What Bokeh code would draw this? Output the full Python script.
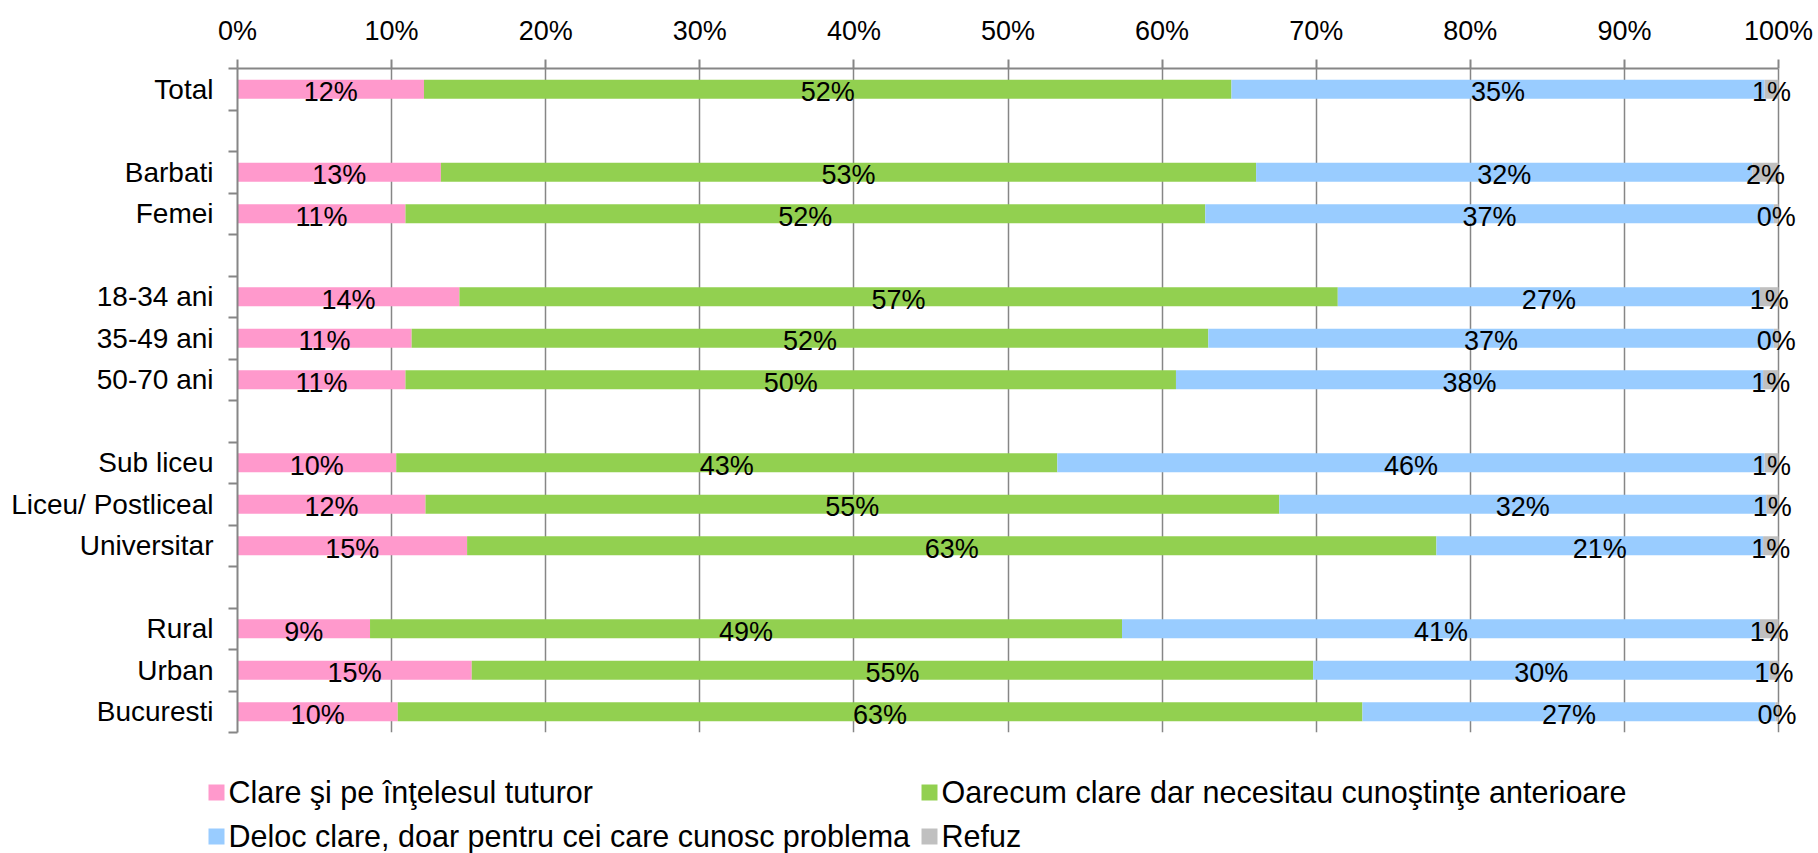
from bokeh.plotting import figure
from bokeh.models import Range1d, FixedTicker, ColumnDataSource, LabelSet, PrintfTickFormatter
from bokeh.layouts import column
from bokeh.embed import file_html
from bokeh.resources import INLINE
from bokeh.core.properties import value

# ---------------- data ----------------
categories = ["Total", "", "Barbati", "Femei", "", "18-34 ani", "35-49 ani", "50-70 ani", "",
              "Sub liceu", "Liceu/ Postliceal", "Universitar", "", "Rural", "Urban", "Bucuresti"]
series = ["Clare şi pe înţelesul tuturor",
          "Oarecum clare dar necesitau cunoştinţe anterioare",
          "Deloc clare, doar pentru cei care cunosc problema",
          "Refuz"]
clare = [12.1, 13.2, 10.9, 14.4, 11.3, 10.9, 10.3, 12.2, 14.9, 8.6, 15.2, 10.4]
oarecum = [52.4, 52.9, 51.9, 57.0, 51.7, 50.0, 42.9, 55.4, 62.9, 48.8, 54.6, 62.6]
deloc = [34.6, 32.2, 36.9, 27.4, 36.7, 38.1, 45.9, 31.6, 21.2, 41.4, 29.6, 26.8]
refuz = [0.9, 1.7, 0.3, 1.2, 0.3, 1.0, 0.9, 0.8, 1.0, 1.2, 0.6, 0.2]
x_ticks = list(range(0, 101, 10))
colors = ["#FF99CC", "#92D050", "#99CCFF", "#C0C0C0"]

FONT = "Liberation Sans"
GREY = "#868686"

# ---------------- layout constants (pixels) ----------------
W = 1818
H_MAIN = 750
H_LEG = 103
FRAME_LEFT = 237
AXIS_100 = 1778          # pixel where 100% falls
FRAME_RIGHT_BORDER = 2
x_end = 100.0 * (W - FRAME_LEFT - FRAME_RIGHT_BORDER) / (AXIS_100 - FRAME_LEFT)

# ---------------- main chart ----------------
n = len(categories)
centers = [i + 0.5 for i, c in enumerate(categories) if c]
names = [c for c in categories if c]
keys = ["clare", "oarecum", "deloc", "refuz"]
src = ColumnDataSource(dict(y=centers, clare=clare, oarecum=oarecum, deloc=deloc, refuz=refuz))

p = figure(width=W, height=H_MAIN, x_range=Range1d(0, x_end), y_range=Range1d(n, 0),
           x_axis_location="above", y_axis_location="left",
           toolbar_location=None, output_backend="svg",
           min_border_left=FRAME_LEFT, min_border_right=FRAME_RIGHT_BORDER,
           min_border_top=68, min_border_bottom=18)
p.outline_line_color = None
p.background_fill_color = "white"
p.frame_align = False

p.hbar_stack(keys, y="y", height=0.46, color=colors, source=src, line_color=None)

# data labels
lx, ly, lt = [], [], []
for j in range(len(names)):
    left = 0.0
    for arr in (clare, oarecum, deloc, refuz):
        v = arr[j]
        lx.append(left + v / 2.0)
        ly.append(centers[j] + 0.07)
        lt.append(f"{round(v):.0f}%")
        left += v
lsrc = ColumnDataSource(dict(x=lx, y=ly, t=lt))
p.add_layout(LabelSet(x="x", y="y", text="t", source=lsrc, text_align="center",
                      text_baseline="middle", text_font=value(FONT),
                      text_font_size=value("27px"), text_color="black"))

# top axis
xa = p.xaxis[0]
xa.ticker = FixedTicker(ticks=x_ticks)
xa.bounds = (0, 100)
xa.formatter = PrintfTickFormatter(format="%d%%")
xa.axis_line_color = GREY
xa.axis_line_width = 2
xa.major_tick_line_color = GREY
xa.major_tick_line_width = 2
xa.major_tick_out = 9
xa.major_tick_in = 0
xa.minor_tick_line_color = None
xa.major_label_text_font = FONT
xa.major_label_text_font_size = "27px"
xa.major_label_text_color = "black"
xa.major_label_standoff = 14

# left axis
ya = p.yaxis[0]
ya.ticker = FixedTicker(ticks=centers, minor_ticks=list(range(0, n + 1)))
ya.major_label_overrides = {c: nm for c, nm in zip(centers, names)}
ya.axis_line_color = GREY
ya.axis_line_width = 2
ya.major_tick_line_color = None
ya.major_tick_out = 0
ya.major_tick_in = 0
ya.minor_tick_line_color = GREY
ya.minor_tick_line_width = 2
ya.minor_tick_out = 9
ya.minor_tick_in = 0
ya.major_label_text_font = FONT
ya.major_label_text_font_size = "28px"
ya.major_label_text_color = "black"
ya.major_label_standoff = 15

p.xgrid.grid_line_color = GREY
p.xgrid.grid_line_width = 1.5
p.xgrid.bounds = (0, 100)
p.ygrid.visible = False

# ---------------- legend ----------------
lg = figure(width=W, height=H_LEG, x_range=Range1d(0, W), y_range=Range1d(H_LEG, 0),
            x_axis_location=None, y_axis_location=None,
            toolbar_location=None, output_backend="svg", min_border=0)
lg.outline_line_color = None
lg.grid.visible = False
lg.frame_align = False

col_x = [208, 921]
row_y = [34, 78]
sq_left, sq_right, sq_top, sq_bot, tx, ty = [], [], [], [], [], []
for k in range(len(series)):
    r, c = divmod(k, 2)
    sq_left.append(col_x[c])
    sq_right.append(col_x[c] + 16)
    sq_top.append(row_y[r])
    sq_bot.append(row_y[r] + 16)
    tx.append(col_x[c] + 20)
    ty.append(row_y[r] + 7)
lg.quad(left=sq_left, right=sq_right, top=sq_top, bottom=sq_bot, color=colors, line_color=None)
lg.text(x=tx, y=ty, text=series, text_font=value(FONT), text_font_size=value("30.5px"),
        text_align="left", text_baseline="alphabetic", text_color="black")

layout = column(p, lg)
open("out.html", "w").write(file_html(layout, INLINE))
